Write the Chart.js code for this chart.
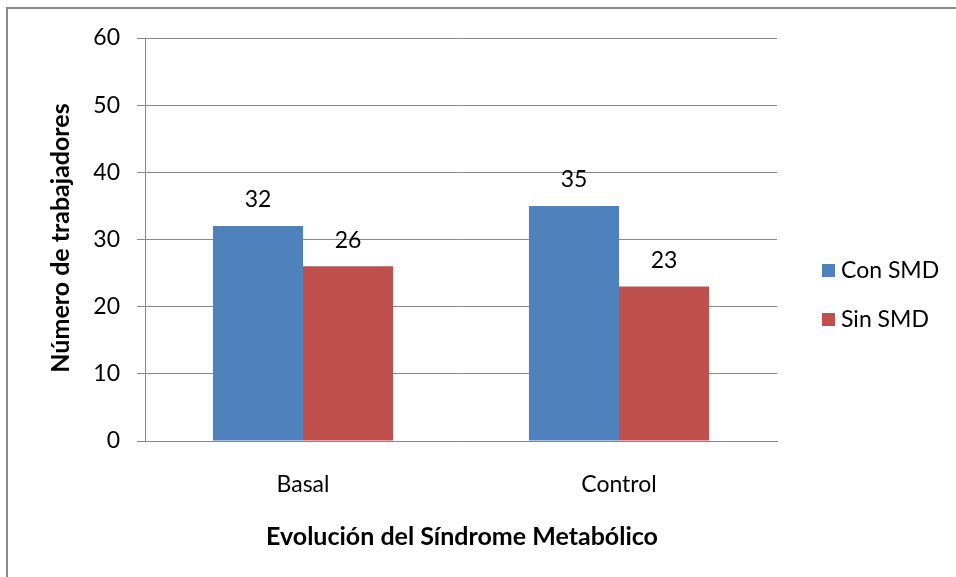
<!DOCTYPE html>
<html>
<head>
<meta charset="utf-8">
<script src="https://cdn.jsdelivr.net/npm/chart.js@4"></script>
<style>
  html, body { margin: 0; padding: 0; background: #fff; }
  #wrap { position: relative; width: 956px; height: 577px; }
  #frame { position: absolute; left: 6px; top: 7px; right: -5px; bottom: -5px;
           border-left: 2px solid #8a8a8a; border-top: 2px solid #8a8a8a; }
  canvas { position: absolute; left: 0; top: 0; }
</style>
</head>
<body>
<div id="wrap">
  <div id="frame"></div>
  <canvas id="c" width="956" height="577"></canvas>
</div>
<script>
const categories = ['Basal', 'Control'];
const seriesNames = ['Con SMD', 'Sin SMD'];
const conSMD = [32, 35];
const sinSMD = [26, 23];
const yTicks = [0, 10, 20, 30, 40, 50, 60];
const yTitle = 'Número de trabajadores';
const xTitle = 'Evolución del Síndrome Metabólico';

const FONT = 'Lato, "Open Sans", sans-serif';
const colors = ['#4F81BD', '#C0504D'];

// Value labels above each bar, axis titles and the right-hand legend
const decorations = {
  id: 'decorations',
  afterDatasetsDraw(chart) {
    const ctx = chart.ctx;
    ctx.save();
    ctx.fillStyle = '#000';
    ctx.font = '23px ' + FONT;
    ctx.textAlign = 'center';
    ctx.textBaseline = 'middle';
    chart.data.datasets.forEach((ds, i) => {
      chart.getDatasetMeta(i).data.forEach((bar, j) => {
        ctx.fillText(String(ds.data[j]), bar.x, bar.y - 26);
      });
    });

    const area = chart.chartArea;
    ctx.font = 'bold 25px ' + FONT;
    ctx.fillText(xTitle, (area.left + area.right) / 2 + 1, 537);
    ctx.save();
    ctx.translate(61, 238);
    ctx.rotate(-Math.PI / 2);
    ctx.fillText(yTitle, 0, 0);
    ctx.restore();

    ctx.font = '23px ' + FONT;
    ctx.textAlign = 'left';
    chart.data.datasets.forEach((ds, i) => {
      const cy = 271 + i * 49;
      ctx.fillStyle = ds.backgroundColor;
      ctx.fillRect(822, cy - 7, 13, 13);
      ctx.fillStyle = '#000';
      ctx.fillText(ds.label, 841, cy);
    });
    ctx.restore();
  }
};

new Chart(document.getElementById('c'), {
  type: 'bar',
  data: {
    labels: categories,
    datasets: [
      { label: seriesNames[0], data: conSMD, backgroundColor: colors[0] },
      { label: seriesNames[1], data: sinSMD, backgroundColor: colors[1] }
    ]
  },
  options: {
    responsive: false,
    animation: false,
    devicePixelRatio: 1,
    layout: { padding: { left: 0, top: 38, right: 179, bottom: 0 } },
    plugins: { legend: { display: false }, tooltip: { enabled: false } },
    datasets: { bar: { barPercentage: 1, categoryPercentage: 0.57 } },
    scales: {
      x: {
        grid: { display: false, drawTicks: false },
        border: { display: true, color: '#8a8a8a', width: 1 },
        ticks: { color: '#000', font: { family: FONT, size: 23 }, padding: 30 },
        afterFit(scale) { scale.height = 136; }
      },
      y: {
        min: 0, max: 60,
        afterBuildTicks(scale) { scale.ticks = yTicks.map(v => ({ value: v })); },
        grid: { color: '#8a8a8a', tickLength: 8, lineWidth: 1 },
        border: { display: true, color: '#8a8a8a', width: 1 },
        ticks: { color: '#000', font: { family: FONT, size: 23 }, padding: 17 },
        afterFit(scale) { scale.width = 145; }
      }
    }
  },
  plugins: [decorations]
});
</script>
</body>
</html>
